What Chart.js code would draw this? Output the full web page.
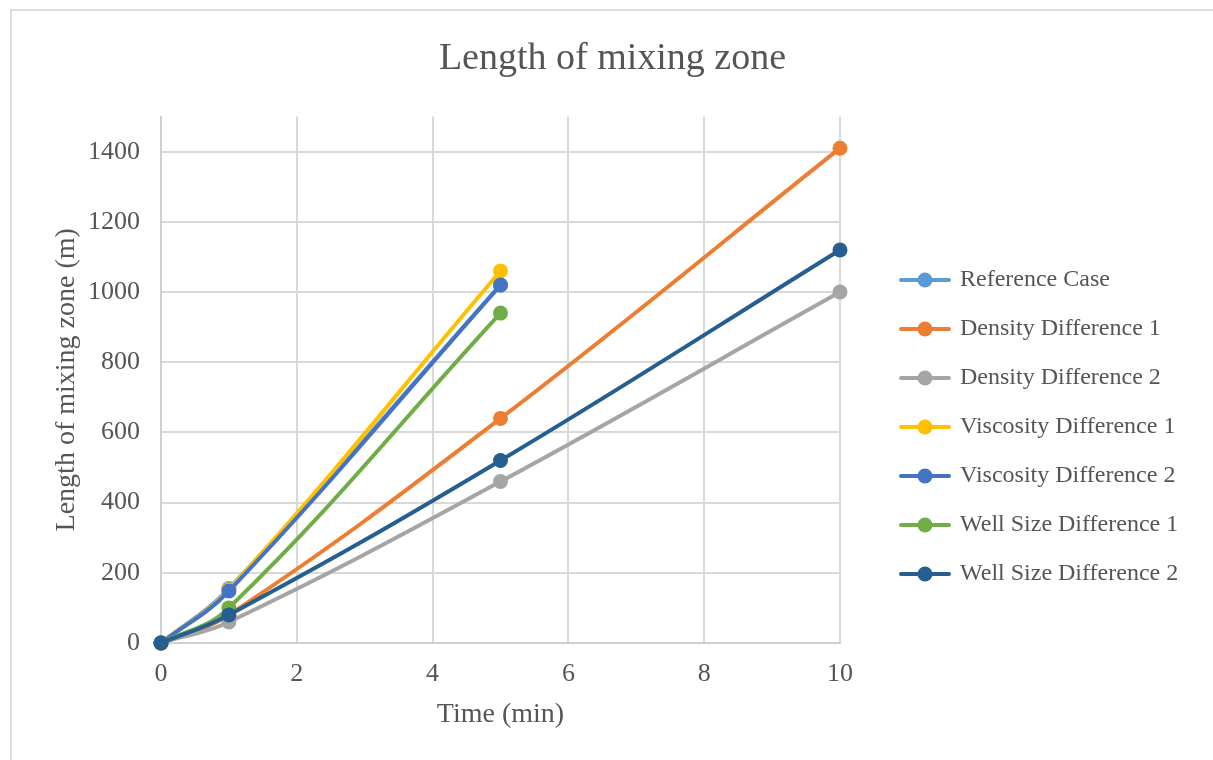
<!DOCTYPE html>
<html>
<head>
<meta charset="utf-8">
<title>Length of mixing zone</title>
<script src="https://cdn.jsdelivr.net/npm/chart.js@4.4.1/dist/chart.umd.min.js"></script>
<style>
  html, body { margin: 0; padding: 0; background: #ffffff; overflow: hidden; }
  #frame { position: absolute; left: 10px; top: 9px; width: 1260px; height: 800px;
           border: 2px solid #dcdcdc; box-sizing: border-box; }
  #wrap { position: absolute; left: 0; top: 0; width: 1213px; height: 760px; }
</style>
</head>
<body>
<div id="frame"></div>
<div id="wrap"><canvas id="chart" width="1213" height="760"></canvas></div>
<script>
// Elapsed time (min) at which the mixing zone was measured
const TIME = [0, 1, 5, 10];

// Length of mixing zone (m) per case, aligned with TIME
const REFERENCE_CASE   = [0, 155, 1020];
const DENSITY_DIFF_1   = [0, 80, 640, 1410];
const DENSITY_DIFF_2   = [0, 60, 460, 1000];
const VISCOSITY_DIFF_1 = [0, 152, 1060];
const VISCOSITY_DIFF_2 = [0, 148, 1020];
const WELL_SIZE_DIFF_1 = [0, 100, 940];
const WELL_SIZE_DIFF_2 = [0, 80, 520, 1120];

const SERIES_NAMES = [
  'Reference Case', 'Density Difference 1', 'Density Difference 2',
  'Viscosity Difference 1', 'Viscosity Difference 2',
  'Well Size Difference 1', 'Well Size Difference 2'
];
const SERIES_VALUES = [
  REFERENCE_CASE, DENSITY_DIFF_1, DENSITY_DIFF_2,
  VISCOSITY_DIFF_1, VISCOSITY_DIFF_2, WELL_SIZE_DIFF_1, WELL_SIZE_DIFF_2
];
const SERIES_COLORS = ['#5B9BD5', '#ED7D31', '#A5A5A5', '#FFC000', '#4472C4', '#70AD47', '#255E91'];

// Axis ranges and tick steps
const X_MIN = 0, X_MAX = 10, X_STEP = 2;
const Y_MIN = 0, Y_MAX = 1500, Y_STEP = 200;

const TEXT = '#555555';
const FONT = '"Liberation Serif", "Times New Roman", serif';

// Legend swatch: short line with a dot in the middle
function swatch(color) {
  const c = document.createElement('canvas');
  c.width = 52; c.height = 18;
  const g = c.getContext('2d');
  g.strokeStyle = color; g.lineWidth = 4; g.lineCap = 'round';
  g.beginPath(); g.moveTo(2, 9); g.lineTo(50, 9); g.stroke();
  g.fillStyle = color;
  g.beginPath(); g.arc(26, 9, 7.5, 0, Math.PI * 2); g.fill();
  return c;
}
const SWATCHES = SERIES_COLORS.map(swatch);

const datasets = SERIES_NAMES.map((name, i) => ({
  label: name,
  data: SERIES_VALUES[i].map((v, k) => ({ x: TIME[k], y: v })),
  borderColor: SERIES_COLORS[i],
  backgroundColor: SERIES_COLORS[i],
  borderWidth: 4,
  pointRadius: 7.5,
  pointHoverRadius: 7.5,
  pointBorderWidth: 0,
  tension: 0.4,
  clip: false,
  // later series sit on top of earlier ones
  order: SERIES_NAMES.length - i
}));

// Keeps the legend column at a fixed width and position on the right
const LEGEND_WIDTH = 373;
const LEGEND_LEFT = 877;
const LEGEND_TOP = 94;
const legendPlacement = {
  id: 'legendPlacement',
  beforeLayout(chart) {
    const lg = chart.legend;
    if (lg && !lg._fixedWidth) {
      const fit = lg.fit.bind(lg);
      lg.fit = function () { fit(); this.width = LEGEND_WIDTH; };
      lg._fixedWidth = true;
    }
  },
  afterLayout(chart) {
    const lg = chart.legend;
    if (!lg) return;
    lg.left = LEGEND_LEFT;
    lg.width = lg.right - lg.left;
    lg.top = LEGEND_TOP;
    lg.height = lg.bottom - lg.top;
  }
};

const defaultLabels = Chart.defaults.plugins.legend.labels.generateLabels;

new Chart(document.getElementById('chart'), {
  type: 'line',
  data: { datasets },
  plugins: [legendPlacement],
  options: {
    responsive: false,
    animation: false,
    devicePixelRatio: 1,
    layout: { padding: { left: 12, right: 0, top: 0, bottom: 0 } },
    plugins: {
      tooltip: { enabled: false },
      title: {
        display: true,
        text: 'Length of mixing zone',
        color: TEXT,
        font: { family: FONT, size: 38, weight: 'normal' },
        padding: { top: 36, bottom: 35 }
      },
      legend: {
        position: 'right',
        align: 'center',
        labels: {
          color: TEXT,
          font: { family: FONT, size: 24 },
          usePointStyle: true,
          pointStyleWidth: 46,
          padding: 25,
          generateLabels(chart) {
            return defaultLabels(chart).map(item => {
              item.pointStyle = SWATCHES[item.datasetIndex];
              return item;
            });
          },
          sort: (a, b) => a.datasetIndex - b.datasetIndex
        }
      }
    },
    scales: {
      x: {
        type: 'linear',
        min: X_MIN, max: X_MAX,
        ticks: { stepSize: X_STEP, color: TEXT, padding: 16, font: { family: FONT, size: 26 } },
        grid: { color: '#d9d9d9', lineWidth: 2, drawTicks: false },
        border: { color: '#d0d0d0', width: 2 },
        title: {
          display: true, text: 'Time (min)', color: TEXT,
          font: { family: FONT, size: 28 },
          padding: { top: 0, bottom: 29 }
        },
        afterFit(scale) { scale.height = 117; }
      },
      y: {
        type: 'linear',
        min: Y_MIN, max: Y_MAX,
        ticks: {
          stepSize: Y_STEP, color: TEXT, padding: 21,
          font: { family: FONT, size: 26 },
          callback: v => (v >= Y_MAX ? null : String(v))
        },
        grid: { color: '#d9d9d9', lineWidth: 2, drawTicks: false },
        border: { color: '#d0d0d0', width: 2 },
        title: {
          display: true, text: 'Length of mixing zone (m)', color: TEXT,
          font: { family: FONT, size: 28 },
          padding: { top: 38, bottom: 0 }
        },
        afterFit(scale) { scale.width = 149; }
      }
    }
  }
});
</script>
</body>
</html>
